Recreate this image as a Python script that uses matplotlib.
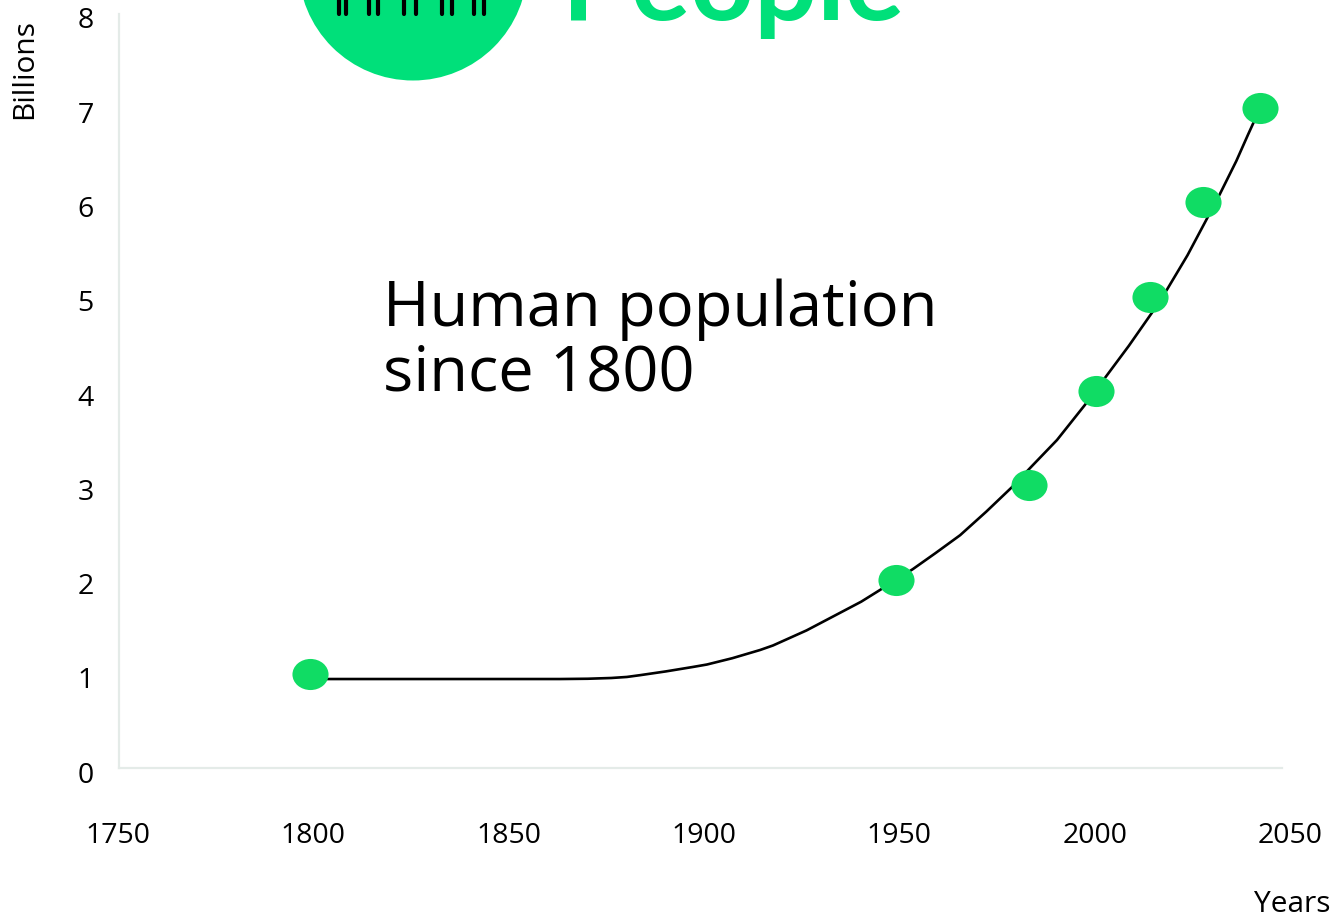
import matplotlib
matplotlib.use("Agg")
import matplotlib.pyplot as plt
from matplotlib.path import Path
from matplotlib.transforms import Affine2D, ScaledTranslation
from matplotlib.patches import Circle

# ---- data ----
marker_years = [1799, 1949, 1983, 2000, 2014, 2027.5, 2042]
marker_values = [1, 2, 3, 4, 5, 6, 7]

curve_years = [1798.9, 1862.9, 1870.0, 1876.0, 1880.0, 1883.4, 1890.0, 1896.9, 1900.5,
               1907.0, 1914.1, 1917.4, 1926.0, 1934.5, 1940.0, 1944.8, 1953.2, 1959.0,
               1965.3, 1972.0, 1978.6, 1983.7, 1990.1, 1997.2, 2002.4, 2008.5, 2014.4,
               2018.2, 2023.5, 2028.5, 2031.8, 2036.0, 2039.0, 2042.0]
curve_values = [0.944, 0.944, 0.947, 0.955, 0.966, 0.985, 1.025, 1.072, 1.098,
                1.165, 1.252, 1.300, 1.460, 1.645, 1.765, 1.889, 2.110, 2.280,
                2.470, 2.720, 2.981, 3.204, 3.480, 3.850, 4.140, 4.480, 4.830,
                5.072, 5.440, 5.830, 6.090, 6.440, 6.720, 6.992]

x_ticks = [1750, 1800, 1850, 1900, 1950, 2000, 2050]
y_ticks = [0, 1, 2, 3, 4, 5, 6, 7, 8]

title_text = "Human population\nsince 1800"
brand_text = "People"
x_label = "Years"
y_label = "Billions"

DOT_GREEN = "#10DC64"
BRAND_GREEN = "#00E07A"
SPINE = "#E4EBE8"
FONT = ["Open Sans", "DejaVu Sans"]

W, H = 1331, 921
plt.rcParams['font.family'] = FONT
fig = plt.figure(figsize=(W / 100, H / 100), dpi=100)

def px(x0, y0, x1, y1):
    return [x0 / W, 1 - y1 / H, (x1 - x0) / W, (y1 - y0) / H]

ax = fig.add_axes(px(119, 14, 1291, 768))
ax.set_xlim(1750, 2050)
ax.set_ylim(0, 8)

ax.plot(curve_years, curve_values, color="black", lw=1.9, solid_capstyle="round",
        solid_joinstyle="round", zorder=2)

ell = Path.unit_circle().transformed(Affine2D().scale(1.0, 31 / 36))
ax.plot(marker_years, marker_values, linestyle="none", marker=ell, markersize=26,
        markerfacecolor=DOT_GREEN, markeredgewidth=0, zorder=3)

for s in ["top", "right"]:
    ax.spines[s].set_visible(False)
for s in ["left", "bottom"]:
    ax.spines[s].set_color(SPINE)
    ax.spines[s].set_linewidth(1.6)
ax.spines["bottom"].set_bounds(1750, 1750 + (1282 - 119) / 3.907)

ax.set_xticks(x_ticks)
ax.set_xticklabels([str(t) for t in x_ticks])
ax.set_yticks(y_ticks)
ax.set_yticklabels([str(t) for t in y_ticks])
ax.tick_params(axis="both", length=0, labelsize=20.5, colors="black")
ax.tick_params(axis="x", pad=39)
ax.tick_params(axis="y", pad=24)
for lab in ax.get_yticklabels():
    lab.set_horizontalalignment("center")
    lab.set_transform(lab.get_transform() + ScaledTranslation(0, -4 / 100, fig.dpi_scale_trans))
for lab in ax.get_xticklabels():
    lab.set_transform(lab.get_transform() + ScaledTranslation(-1 / 100, 0, fig.dpi_scale_trans))

# title inside the plot
ax.text(1750 + (383 - 119) / 3.907, (768 - 390) / 94.25, title_text, fontsize=45.5,
        ha="left", va="baseline", linespacing=1.04, color="black")

# overlay in pixel coordinates for decorations and labels
ov = fig.add_axes([0, 0, 1, 1], zorder=5)
ov.set_xlim(0, W)
ov.set_ylim(H, 0)
ov.axis("off")
ov.patch.set_alpha(0)

ov.add_patch(Circle((413, -34), 114.5, color=BRAND_GREEN, lw=0))
for a, b in [(339, 346), (369, 378), (404, 416), (442, 452), (474, 484)]:
    for xx in (a, b):
        ov.plot([xx, xx], [-10, 14], color="black", lw=3, solid_capstyle="round")
ov.text(562, 20, brand_text, fontsize=80, fontweight="bold", color=BRAND_GREEN,
        ha="left", va="baseline", family=["Lato", "DejaVu Sans"])

ov.text(25, 69, y_label, rotation=90, fontsize=21.5, ha="center", va="center")
ov.text(1254, 904, x_label, fontsize=21.5, ha="left", va="center")

fig.savefig("out.png", dpi=100)
